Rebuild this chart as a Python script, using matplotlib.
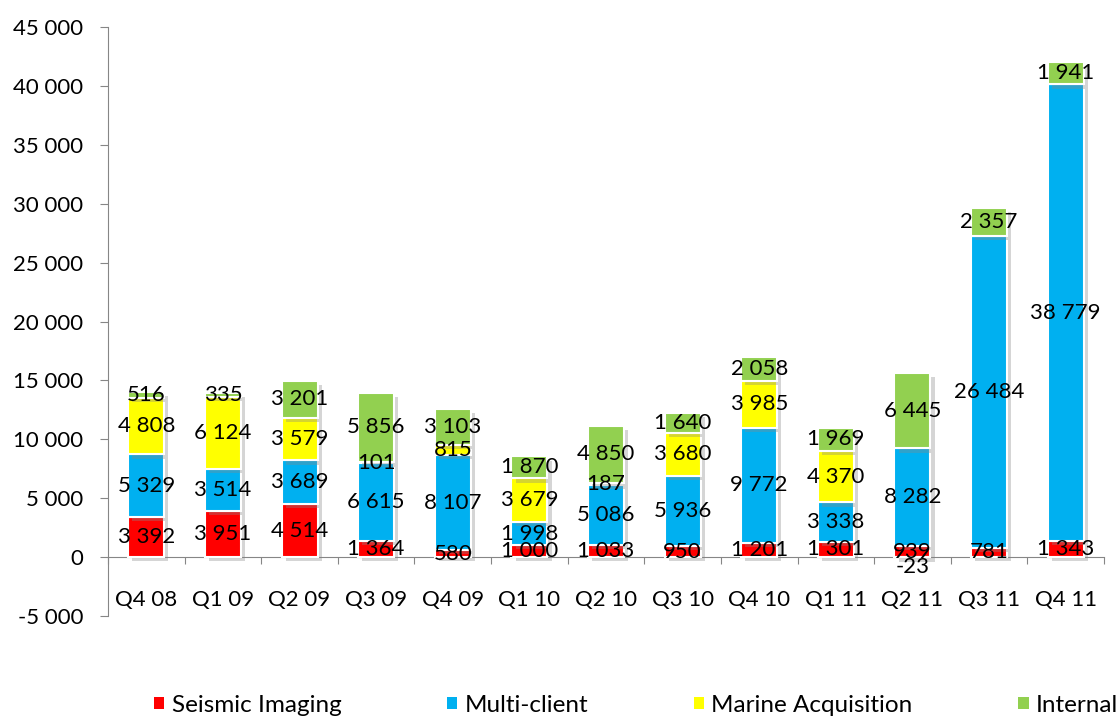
import matplotlib
matplotlib.use("Agg")
import matplotlib.pyplot as plt
import matplotlib.patheffects as pe
from matplotlib.patches import Patch
from matplotlib.ticker import FuncFormatter
import numpy as np

categories = ["Q4 08", "Q1 09", "Q2 09", "Q3 09", "Q4 09", "Q1 10", "Q2 10",
              "Q3 10", "Q4 10", "Q1 11", "Q2 11", "Q3 11", "Q4 11"]
seismic_imaging = [3392, 3951, 4514, 1364, 580, 1000, 1033, 950, 1201, 1301, 939, 781, 1343]
multi_client = [5329, 3514, 3689, 6615, 8107, 1998, 5086, 5936, 9772, 3338, 8282, 26484, 38779]
marine_acquisition = [4808, 6124, 3579, 101, 815, 3679, 187, 3680, 3985, 4370, -23, 0, 0]
internal = [516, 335, 3201, 5856, 3103, 1870, 4850, 1640, 2058, 1969, 6445, 2357, 1941]

series_names = ["Seismic Imaging", "Multi-client", "Marine Acquisition", "Internal"]
series = [seismic_imaging, multi_client, marine_acquisition, internal]
colors = ["#FF0000", "#00B0F0", "#FFFF00", "#92D050"]

FONT = ["Lato", "DejaVu Sans"]
plt.rcParams["font.family"] = FONT

W, H = 1119, 717
fig = plt.figure(figsize=(W / 100, H / 100), dpi=100)
ax = fig.add_axes([108 / W, 1 - 616 / H, (1104 - 108) / W, (616 - 27) / H])

x = np.arange(len(categories))
width = 0.47
pos_base = np.zeros(len(categories))
neg_base = np.zeros(len(categories))
shadow = [pe.SimplePatchShadow(offset=(3, -3), shadow_rgbFace="#888888", alpha=0.35), pe.Normal()]

for name, vals, col in zip(series_names, series, colors):
    vals = np.array(vals, dtype=float)
    bottoms = np.where(vals >= 0, pos_base, neg_base)
    bars = ax.bar(x, vals, width, bottom=bottoms, color=col, edgecolor="white",
                  linewidth=1.5, label=name, zorder=3)
    for b in bars:
        b.set_path_effects(shadow)
    for i, v in enumerate(vals):
        if v == 0:
            continue
        yc = bottoms[i] + v / 2
        txt = f"{int(v):,}".replace(",", " ")
        ax.text(x[i], yc, txt, ha="center", va="top" if v < 0 else "center",
                fontsize=16, color="black", zorder=5)
    pos_base = pos_base + np.where(vals >= 0, vals, 0)
    neg_base = neg_base + np.where(vals < 0, vals, 0)

ax.set_xlim(-0.5, len(categories) - 0.5)
ax.set_ylim(-5000, 45000)
ax.set_yticks(np.arange(-5000, 45001, 5000))
ax.yaxis.set_major_formatter(FuncFormatter(lambda v, p: f"{int(v):,}".replace(",", " ")))
ax.tick_params(axis="y", labelsize=16, length=6, color="#868686", pad=12)

for s in ["top", "right"]:
    ax.spines[s].set_visible(False)
ax.spines["left"].set_color("#868686")
ax.spines["bottom"].set_position(("data", 0))
ax.spines["bottom"].set_color("#868686")
ax.set_xticks(np.arange(-0.5, len(categories) + 0.5, 1))
ax.set_xticklabels([])
ax.tick_params(axis="x", direction="out", length=5, color="#868686")

for i, c in enumerate(categories):
    ax.text(x[i], -3650, c, ha="center", va="center", fontsize=16)

handles = [Patch(facecolor=c, edgecolor="none") for c in colors]
fig.legend(handles, series_names, loc="center left", bbox_to_anchor=(154 / W, 1 - 705 / H),
           ncol=4, frameon=False, fontsize=17.5, handlelength=0.42, handleheight=0.42,
           handletextpad=0.3, columnspacing=4.35, borderpad=0, borderaxespad=0)

fig.savefig("out.png", dpi=100)
